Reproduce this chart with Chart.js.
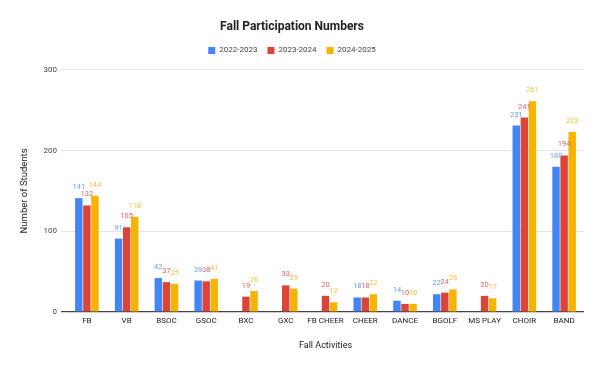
<!DOCTYPE html>
<html>
<head>
<meta charset="utf-8">
<script src="https://cdn.jsdelivr.net/npm/chart.js@4"></script>
<style>
  html, body { margin: 0; padding: 0; background: #fff; }
  #wrap { width: 597px; height: 369px; }
</style>
</head>
<body>
<div id="wrap"><canvas id="myChart"></canvas></div>
<script>
var activities = ["FB", "VB", "BSOC", "GSOC", "BXC", "GXC", "FB CHEER", "CHEER", "DANCE", "BGOLF", "MS PLAY", "CHOIR", "BAND"];
var y2022 = [141, 91, 42, 39, null, null, null, 18, 14, 22, null, 231, 180];
var y2023 = [132, 105, 37, 38, 19, 33, 20, 18, 10, 24, 20, 241, 194];
var y2024 = [144, 118, 35, 41, 26, 29, 12, 22, 10, 28, 17, 261, 223];
var seasons = ["2022-2023", "2023-2024", "2024-2025"];
var barColors = ["#4285f4", "#db4437", "#f4b400"];
var labelColors = ["#6d9eeb", "#e06666", "#f6c142"];

// value labels above each bar
var barLabels = {
  id: "barLabels",
  afterDatasetsDraw: function (chart) {
    var ctx = chart.ctx;
    ctx.save();
    ctx.font = "7.5px Roboto";
    ctx.textAlign = "center";
    ctx.textBaseline = "alphabetic";
    chart.data.datasets.forEach(function (ds, i) {
      var meta = chart.getDatasetMeta(i);
      meta.data.forEach(function (bar, j) {
        if (ds.data[j] == null) return;
        ctx.fillStyle = labelColors[i];
        ctx.fillText(ds.data[j], bar.x, bar.y - 9);
      });
    });
    ctx.restore();
  }
};

// a bit more room under the legend
var legendGap = {
  id: "legendGap",
  beforeInit: function (chart) {
    var fit = chart.legend.fit;
    chart.legend.fit = function () {
      fit.bind(chart.legend)();
      this.height += 5.5;
    };
  }
};

new Chart("myChart", {
  type: "bar",
  data: {
    labels: activities,
    datasets: [
      { label: seasons[0], data: y2022, backgroundColor: barColors[0] },
      { label: seasons[1], data: y2023, backgroundColor: barColors[1] },
      { label: seasons[2], data: y2024, backgroundColor: barColors[2] }
    ]
  },
  options: {
    responsive: true,
    maintainAspectRatio: false,
    animation: false,
    layout: { padding: { left: 0, right: 13, top: 0, bottom: 0 } },
    datasets: { bar: { categoryPercentage: 0.61, barPercentage: 0.92 } },
    plugins: {
      title: {
        display: true,
        text: "Fall Participation Numbers",
        color: "#222",
        font: { family: "Roboto", size: 12, weight: "bold" },
        padding: { top: 20, bottom: 2 }
      },
      legend: {
        labels: {
          boxWidth: 7, boxHeight: 7, color: "#444",
          font: { family: "Roboto", size: 8 },
          padding: 10
        }
      },
      tooltip: { enabled: false }
    },
    scales: {
      x: {
        afterFit: function (s) { s.height = 57; },
        grid: { display: false, drawTicks: false },
        border: { display: false },
        ticks: { color: "#222", font: { family: "Roboto", size: 8 }, padding: 4, maxRotation: 0, autoSkip: false },
        title: { display: true, text: "Fall Activities", color: "#222", font: { family: "Roboto", size: 9 }, padding: { top: 0, bottom: 18 } }
      },
      y: {
        min: 0, max: 300,
        afterFit: function (s) { s.width = 67; },
        ticks: { stepSize: 100, color: "#444", font: { family: "Roboto", size: 8 }, padding: 4 },
        grid: {
          tickLength: 6,
          color: function (c) { return c.tick && c.tick.value === 0 ? "#444" : "#e3e3e3"; },
          lineWidth: function (c) { return c.tick && c.tick.value === 0 ? 1.2 : 1; }
        },
        border: { display: false },
        title: { display: true, text: "Number of Students", color: "#222", font: { family: "Roboto", size: 9.5 }, padding: { top: 19, bottom: 0 } }
      }
    }
  },
  plugins: [barLabels, legendGap]
});
</script>
</body>
</html>
